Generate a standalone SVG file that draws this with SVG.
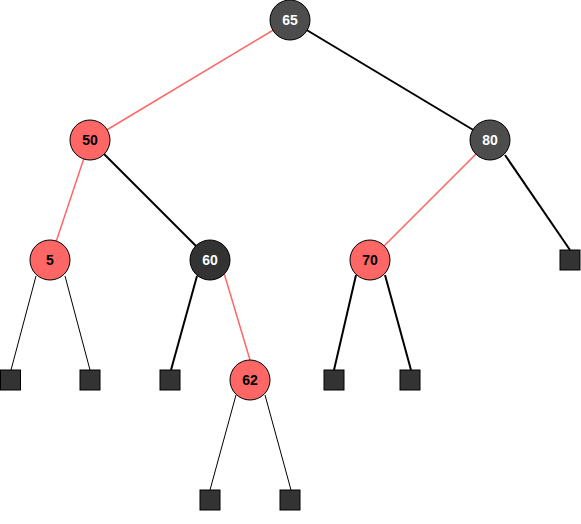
<svg xmlns="http://www.w3.org/2000/svg" width="581" height="524" viewBox="0 0 581 524">
<style>
.red{fill:#FF6666;stroke:#000;stroke-width:1}
.blk{fill:#4D4D4D;stroke:#000;stroke-width:1}
.blk2{fill:#333333;stroke:#000;stroke-width:1}
.leaf{fill:#333333;stroke:#000;stroke-width:1}
.t{font-family:"Liberation Sans",Arial,sans-serif;font-size:14px;font-weight:bold;text-anchor:middle;dominant-baseline:central}
.tw{fill:#fff}
.tb{fill:#000}
.er{stroke:#FF6666;stroke-width:1.5;fill:none}
.eb{stroke:#000;stroke-width:2;fill:none}
.et{stroke:#000;stroke-width:1;fill:none}
</style>
<g id="connectors">
<line class="er" x1="290" y1="20" x2="90" y2="140"/>
<line class="eb" x1="290" y1="20" x2="490" y2="140"/>
<line class="er" x1="90" y1="140" x2="50" y2="260"/>
<line class="eb" x1="90" y1="140" x2="210" y2="260"/>
<line class="er" x1="490" y1="140" x2="370" y2="260"/>
<line class="eb" x1="505" y1="155" x2="570" y2="250"/>
<line class="et" x1="36" y1="276" x2="11" y2="370"/>
<line class="et" x1="65" y1="276" x2="90" y2="370"/>
<line class="eb" x1="197" y1="276" x2="171" y2="370"/>
<line class="er" x1="224" y1="273" x2="250" y2="360"/>
<line class="eb" x1="356" y1="275" x2="334" y2="370"/>
<line class="eb" x1="385" y1="275" x2="411" y2="370"/>
<line class="et" x1="236" y1="395" x2="210" y2="490"/>
<line class="et" x1="265" y1="395" x2="291" y2="490"/>
</g>
<g id="n65"><circle class="blk" cx="290" cy="20" r="20"/><text class="t tw" x="290" y="20">65</text></g>
<g id="n50"><circle class="red" cx="90" cy="140" r="20"/><text class="t tb" x="90" y="140">50</text></g>
<g id="n80"><circle class="blk" cx="490" cy="140" r="20"/><text class="t tw" x="490" y="140">80</text></g>
<g id="n5"><circle class="red" cx="50" cy="260" r="20"/><text class="t tb" x="50" y="260">5</text></g>
<g id="n60"><circle class="blk2" cx="210" cy="260" r="20"/><text class="t tw" x="210" y="260">60</text></g>
<g id="n70"><circle class="red" cx="370" cy="260" r="20"/><text class="t tb" x="370" y="260">70</text></g>
<g id="n62"><circle class="red" cx="250" cy="380" r="20"/><text class="t tb" x="250" y="380">62</text></g>
<g id="leaf1"><rect class="leaf" x="0.5" y="370" width="20" height="20"/></g>
<g id="leaf2"><rect class="leaf" x="80" y="370" width="20" height="20"/></g>
<g id="leaf3"><rect class="leaf" x="160" y="370" width="20" height="20"/></g>
<g id="leaf4"><rect class="leaf" x="324" y="370" width="20" height="20"/></g>
<g id="leaf5"><rect class="leaf" x="400" y="370" width="20" height="20"/></g>
<g id="leaf6"><rect class="leaf" x="560" y="250" width="20" height="20"/></g>
<g id="leaf7"><rect class="leaf" x="200" y="490" width="20" height="20"/></g>
<g id="leaf8"><rect class="leaf" x="280" y="490" width="20" height="20"/></g>
</svg>
